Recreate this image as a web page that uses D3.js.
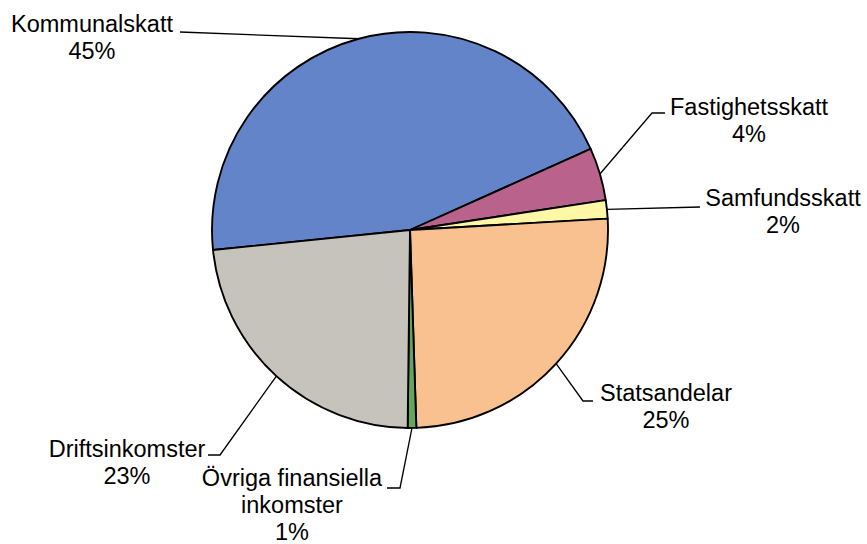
<!DOCTYPE html>
<html>
<head>
<meta charset="utf-8">
<script src="https://cdn.jsdelivr.net/npm/d3@7"></script>
<style>
    body { margin: 0; background: #fff; }
    text { font-family: "Liberation Sans", Arial, sans-serif; font-size: 23.5px; fill: #000; }
</style>
</head>
<body>
<svg id="chart"></svg>
<script>
let categories = ["Kommunalskatt", "Fastighetsskatt", "Samfundsskatt", "Statsandelar", "Övriga finansiella inkomster", "Driftsinkomster"];
let values = [44.9, 4.3, 1.5, 25.4, 0.7, 23.2];
let percentLabels = ["45%", "4%", "2%", "25%", "1%", "23%"];
let labelLines = [
    ["Kommunalskatt", "45%"],
    ["Fastighetsskatt", "4%"],
    ["Samfundsskatt", "2%"],
    ["Statsandelar", "25%"],
    ["Övriga finansiella", "inkomster", "1%"],
    ["Driftsinkomster", "23%"]
];

let colors = ["#6384c9", "#b8628c", "#fdf7a6", "#f9c18f", "#62a55b", "#c6c3bc"];

// label placement: text centre x, first baseline y, elbow and end of leader line
let labelLayout = [
    {x: 92, y: 32, elbow: [180, 32], end: [180, 32]},
    {x: 749, y: 115, elbow: [652, 113], end: [665, 113]},
    {x: 783, y: 206, elbow: [700, 207], end: [700, 207]},
    {x: 666, y: 401, elbow: [583, 401], end: [593, 401]},
    {x: 292, y: 486, elbow: [400, 488], end: [387, 488]},
    {x: 127, y: 457, elbow: [220, 455], end: [208, 455]}
];

let width = 867, height = 544;
let cx = 410, cy = 230, radius = 198;
let startDeg = -95.8;

let svg = d3.select("#chart")
    .attr("width", width)
    .attr("height", height);

let data = categories.map(function (c, i) {
    return {name: c, value: values[i], color: colors[i], pct: percentLabels[i]};
});

let pie = d3.pie()
    .sort(null)
    .value(function (d) { return d.value; })
    .startAngle(startDeg * Math.PI / 180)
    .endAngle((startDeg + 360) * Math.PI / 180);

let arc = d3.arc()
    .innerRadius(0)
    .outerRadius(radius);

let arcs = pie(data);

let g = svg.append("g")
    .attr("transform", "translate(" + cx + "," + cy + ")");

g.selectAll("path.slice")
    .data(arcs)
    .enter()
    .append("path")
    .attr("class", "slice")
    .attr("d", arc)
    .style("fill", function (d) { return d.data.color; })
    .style("stroke", "#000")
    .style("stroke-width", 1.9)
    .style("stroke-linejoin", "round");

// leader lines
arcs.forEach(function (d, i) {
    let mid = (d.startAngle + d.endAngle) / 2;
    let px = cx + radius * Math.sin(mid);
    let py = cy - radius * Math.cos(mid);
    let lay = labelLayout[i];
    let pts = [[px, py], lay.elbow, lay.end];
    svg.append("path")
        .attr("d", d3.line()(pts))
        .style("fill", "none")
        .style("stroke", "#000")
        .style("stroke-width", 1.3);
});

// labels
labelLines.forEach(function (lines, i) {
    let lay = labelLayout[i];
    let t = svg.append("text")
        .attr("text-anchor", "middle")
        .attr("x", lay.x)
        .attr("y", lay.y);
    lines.forEach(function (line, j) {
        t.append("tspan")
            .attr("x", lay.x)
            .attr("dy", j === 0 ? 0 : 27)
            .text(line);
    });
});
</script>
</body>
</html>
